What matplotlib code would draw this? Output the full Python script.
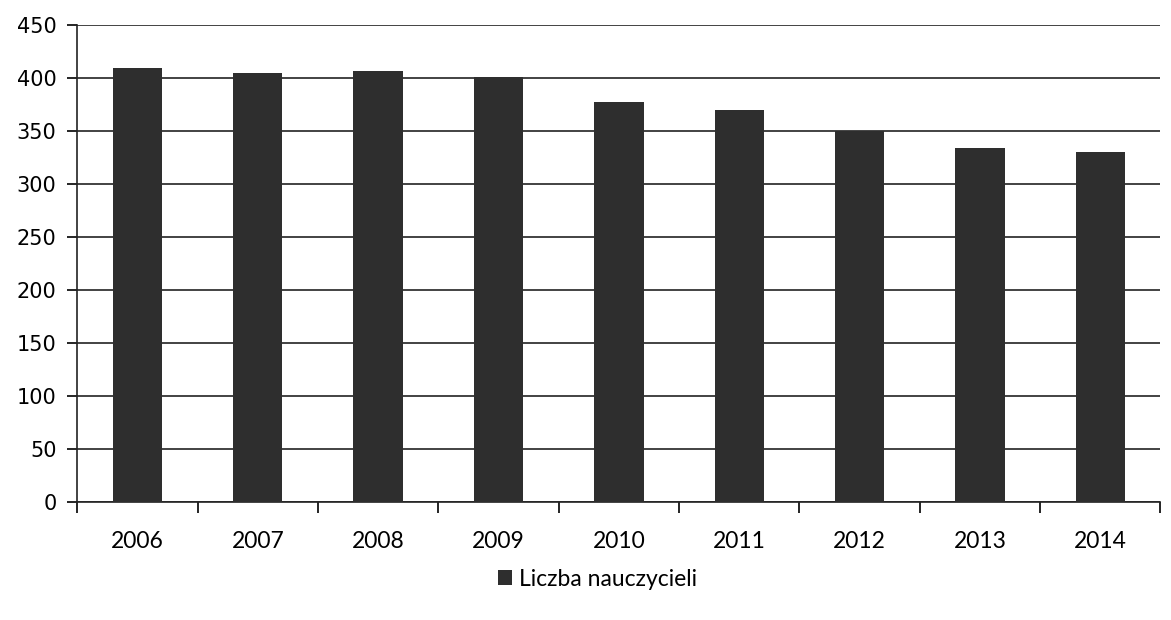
import matplotlib.pyplot as plt
from matplotlib.ticker import MultipleLocator, FixedLocator

years = ["2006", "2007", "2008", "2009", "2010", "2011", "2012", "2013", "2014"]
teachers = [409, 405, 406, 401, 377, 370, 350, 334, 330]
series_name = "Liczba nauczycieli"

bar_color = "#2e2e2e"

fig = plt.figure(figsize=(11.71, 6.2), dpi=100)
ax = fig.add_axes([0.066, 0.190, 0.925, 0.770])

x = list(range(len(years)))
ax.bar(x, teachers, width=0.41, color=bar_color, label=series_name, zorder=3)

ax.set_xlim(-0.5, len(years) - 0.5)
ax.set_ylim(0, 450)
ax.yaxis.set_major_locator(MultipleLocator(50))
ax.grid(axis="y", color="#222222", linewidth=1.2, zorder=0)

# category labels in the middle, ticks on the boundaries
ax.set_xticks(x)
ax.set_xticklabels(years, family="Lato", fontsize=16.5)
ax.xaxis.set_minor_locator(FixedLocator([i - 0.5 for i in range(len(years) + 1)]))
ax.tick_params(axis="x", which="major", length=0, pad=21)
ax.tick_params(axis="x", which="minor", length=8, width=1.2, direction="out")
ax.tick_params(axis="y", length=7, width=1.2, direction="out", labelsize=15, pad=8)

for sp in ["top", "right"]:
    ax.spines[sp].set_visible(False)
for sp in ["left", "bottom"]:
    ax.spines[sp].set_linewidth(1.2)
    ax.spines[sp].set_color("#222222")

leg = fig.legend(loc="center", bbox_to_anchor=(0.51, 0.066), frameon=False,
                 handlelength=0.6, handleheight=0.6, handletextpad=0.3,
                 prop={"family": "Lato", "size": 16.5})

fig.savefig("out.png", dpi=100)
